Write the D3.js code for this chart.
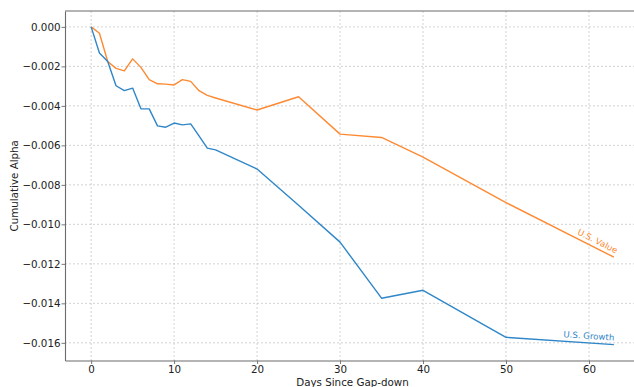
<!DOCTYPE html>
<html>
<head>
<meta charset="utf-8">
<script src="https://cdn.jsdelivr.net/npm/d3@7"></script>
<style>
  html, body { margin: 0; padding: 0; background: #fff; }
  svg { display: block; font-family: "DejaVu Sans", sans-serif; }
</style>
</head>
<body>
<svg id="chart" width="634" height="387"></svg>
<script>
// Days after the gap-down event
const days = [0, 1, 2, 3, 4, 5, 6, 7, 8, 9, 10, 11, 12, 13, 14, 15, 20, 25, 30, 35, 40, 50, 63];

// Cumulative alpha, U.S. Value
const valueAlpha = [0.0, -0.00032, -0.00175, -0.0021, -0.00223, -0.00162, -0.00205, -0.00267, -0.00288,
  -0.0029, -0.00294, -0.00267, -0.00276, -0.00323, -0.00347, -0.0036, -0.00421, -0.00354, -0.00543,
  -0.0056, -0.0066, -0.0089, -0.01166];

// Cumulative alpha, U.S. Growth
const growthAlpha = [0.0, -0.00132, -0.00175, -0.00298, -0.00323, -0.0031, -0.00415, -0.00415, -0.00501,
  -0.00508, -0.00487, -0.00496, -0.00491, -0.00552, -0.00614, -0.00623, -0.0072, -0.00903, -0.0109,
  -0.01374, -0.01334, -0.01572, -0.01609];

const xTicks = [0, 10, 20, 30, 40, 50, 60];
const yTicks = [0, -0.002, -0.004, -0.006, -0.008, -0.010, -0.012, -0.014, -0.016];

const seriesNames = ["U.S. Value", "U.S. Growth"];
const seriesColors = ["#fd8a33", "#2f86c8"];

const svg = d3.select("#chart");
const plotLeft = 65, plotTop = 11, plotRight = 640, plotBottom = 360.5;

// 5% padding around the data extents on both axes
const xMin = d3.min(days), xMax = d3.max(days);
const xPad = (xMax - xMin) * 0.05;
const allY = valueAlpha.concat(growthAlpha);
const yMin = d3.min(allY), yMax = d3.max(allY);
const yPad = (yMax - yMin) * 0.05;

const x = d3.scaleLinear().domain([xMin - xPad, xMax + xPad]).range([plotLeft, plotRight]);
const y = d3.scaleLinear().domain([yMin - yPad, yMax + yPad]).range([plotBottom, plotTop]);

// grid
const grid = svg.append("g").attr("stroke", "#c8c8c8").attr("stroke-width", 0.8).attr("stroke-dasharray", "2,2");
grid.selectAll("line.vx").data(xTicks).join("line").attr("class", "vx")
  .attr("x1", d => x(d)).attr("x2", d => x(d)).attr("y1", plotTop).attr("y2", plotBottom);
grid.selectAll("line.hy").data(yTicks).join("line").attr("class", "hy")
  .attr("x1", plotLeft).attr("x2", plotRight).attr("y1", d => y(d)).attr("y2", d => y(d));

// data lines
const line = d3.line().x((d, i) => x(days[i])).y(d => y(d));
const series = [valueAlpha, growthAlpha];
svg.append("g").selectAll("path").data(series).join("path")
  .attr("fill", "none")
  .attr("stroke", (d, i) => seriesColors[i])
  .attr("stroke-width", 1.4)
  .attr("stroke-linejoin", "round")
  .attr("d", line);

// end-of-line labels, aligned to the last segment
series.forEach((vals, i) => {
  const n = vals.length;
  const x0 = x(days[n - 2]), y0 = y(vals[n - 2]);
  const x1 = x(days[n - 1]), y1 = y(vals[n - 1]);
  const ang = Math.atan2(y1 - y0, x1 - x0) * 180 / Math.PI;
  svg.append("text")
    .attr("transform", `translate(${x1},${y1}) rotate(${ang}) translate(0,-4)`)
    .attr("text-anchor", "end")
    .attr("font-size", 8.6)
    .attr("fill", seriesColors[i])
    .text(seriesNames[i]);
});

// axes
const spine = "#6b6b6b";
const xAxis = svg.append("g").attr("transform", `translate(0,${plotBottom})`)
  .call(d3.axisBottom(x).tickValues(xTicks).tickFormat(d3.format("d")).tickSizeInner(3.5).tickSizeOuter(0).tickPadding(1.5));
const yAxis = svg.append("g").attr("transform", `translate(${plotLeft},0)`)
  .call(d3.axisLeft(y).tickValues(yTicks).tickFormat(d3.format(".3f")).tickSizeInner(3.5).tickSizeOuter(0).tickPadding(1));
[xAxis, yAxis].forEach(g => {
  g.select(".domain").attr("stroke", spine).attr("stroke-width", 1.1);
  g.selectAll(".tick line").attr("stroke", spine).attr("stroke-width", 0.9);
  g.selectAll(".tick text").attr("fill", "#222").attr("font-size", 10.3).attr("font-family", "DejaVu Sans");
});
// top spine
svg.append("line").attr("x1", plotLeft).attr("x2", plotRight).attr("y1", plotTop).attr("y2", plotTop)
  .attr("stroke", spine).attr("stroke-width", 1.1);

// axis titles
svg.append("text")
  .attr("x", (plotLeft + plotRight) / 2).attr("y", 386)
  .attr("text-anchor", "middle").attr("font-size", 10.3).attr("fill", "#222")
  .text("Days Since Gap-down");
svg.append("text")
  .attr("transform", `translate(18,${(plotTop + plotBottom) / 2}) rotate(-90)`)
  .attr("text-anchor", "middle").attr("font-size", 10.3).attr("fill", "#222")
  .text("Cumulative Alpha");
</script>
</body>
</html>
